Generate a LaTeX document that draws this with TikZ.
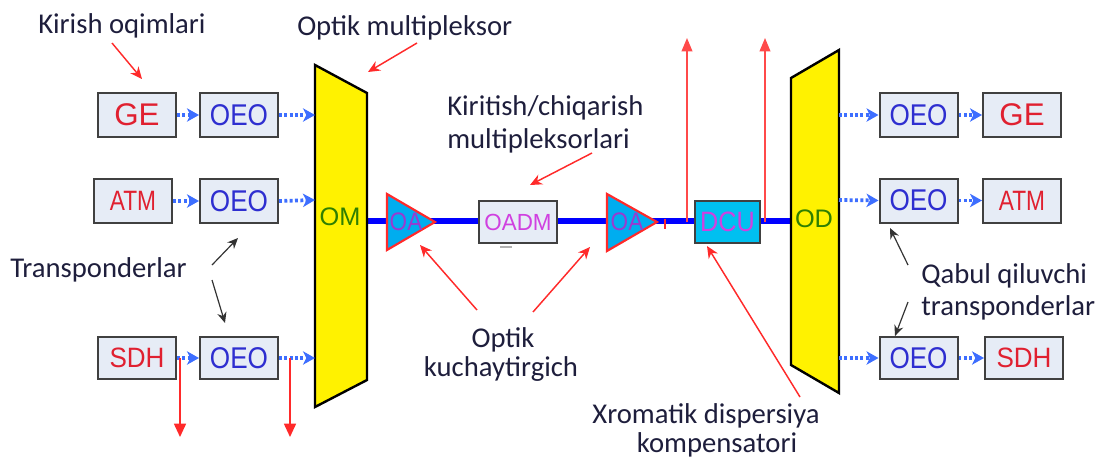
\documentclass[tikz,border=0pt]{standalone}
\usepackage{fontspec}
\setmainfont{Carlito}
\newfontfamily\arialf{Liberation Sans}
\usetikzlibrary{arrows.meta}
\definecolor{boxfill}{HTML}{E6ECF6}
\definecolor{boxline}{HTML}{404040}
\definecolor{oeoblue}{HTML}{2E2ED0}
\definecolor{gered}{HTML}{E02030}
\definecolor{dotblue}{HTML}{3D6EFF}
\definecolor{lbltext}{HTML}{1E1E3C}
\definecolor{arrred}{HTML}{FF2A2A}
\definecolor{thinred}{HTML}{FF4A4A}
\definecolor{muxgreen}{HTML}{2F7F00}
\definecolor{oapurple}{HTML}{9A3AD0}
\definecolor{dcufill}{HTML}{00C0F0}
\definecolor{magtext}{HTML}{D040E0}
\definecolor{linkblue}{HTML}{0000FF}
\newcommand\boxfont[2]{\arialf\fontsize{#1}{#1}\selectfont\addfontfeature{FakeStretch=#2}}
\begin{document}
\begin{tikzpicture}[x=0.75pt,y=-0.75pt,
  tbox/.style={draw=boxline, line width=1.5pt, fill=boxfill, minimum width=58.5pt,
    minimum height=33pt, inner sep=0pt},
  oeo/.style={tbox, text=oeoblue, font=\boxfont{22.5}{0.87}},
  getxt/.style={tbox, text=gered, font=\boxfont{23.5}{1.0}},
  atmtxt/.style={tbox, text=gered, font=\boxfont{21}{0.81}},
  sdhtxt/.style={tbox, text=gered, font=\boxfont{21}{0.93}, minimum height=31.5pt},
  dotarr/.style={draw=dotblue, line width=2.8pt, dash pattern=on 2.2pt off 1.8pt,
    -{Stealth[length=9pt,width=10pt,inset=2.5pt]}},
  mux/.style={draw=black, line width=1.8pt, fill=yellow, line join=miter},
  muxtxt/.style={text=muxgreen, font=\boxfont{19}{1.0}, inner sep=0pt},
  oatri/.style={draw=arrred, line width=1.6pt, fill=cyan, line join=miter},
  oatxt/.style={text=oapurple, font=\boxfont{19}{0.89}, inner sep=0pt},
  lbl/.style={text=lbltext, font=\fontsize{21.5}{25}\selectfont, inner sep=0pt},
  redarr/.style={draw=arrred, line width=1.1pt, -{Stealth[length=9pt,width=8pt]}},
  tallarr/.style={draw=thinred, line width=1.2pt, -{Triangle[length=10pt,width=8pt]}},
  blkarr/.style={draw=black!80, line width=0.9pt, -{Stealth[length=8pt,width=7pt]}}
]
\useasboundingbox (0,0) rectangle (1098,457);

% main optical link
\coordinate (omr) at (367,221);
\coordinate (odl) at (791,221);
\draw[draw=linkblue, line width=4.5pt] (omr) -- (odl);

% multiplexer / demultiplexer
\draw[mux] (315,65) -- (367,93) -- (367,380) -- (315,407) -- cycle;
\node[muxtxt] (om) at (340,217) {OM};
\draw[mux] (791,78) -- (839,50) -- (839,393) -- (791,365) -- cycle;
\node[muxtxt] (od) at (814,219) {OD};

% entry coordinates on OM / OD
\coordinate (om1) at (315,115);
\coordinate (om2) at (315,200);
\coordinate (om3) at (315,358);
\coordinate (od1) at (839,115);
\coordinate (od2) at (839,200);
\coordinate (od3) at (839,358);

% left boxes
\node[getxt]  (ge1)  at (137,115) {GE};
\node[atmtxt] (atm1) at (133,201) {ATM};
\node[sdhtxt] (sdh1) at (137,358) {SDH};
\node[oeo] (oeoL1) at (239,115) {OEO};
\node[oeo] (oeoL2) at (239,201) {OEO};
\node[oeo, minimum height=31.5pt] (oeoL3) at (239,358) {OEO};

% right boxes
\node[oeo] (oeoR1) at (918.5,115) {OEO};
\node[oeo] (oeoR2) at (918.5,200.5) {OEO};
\node[oeo, minimum height=31.5pt] (oeoR3) at (918.5,358) {OEO};
\node[getxt]  (ge2)  at (1022,115) {GE};
\node[atmtxt] (atm2) at (1022,200.5) {ATM};
\node[sdhtxt] (sdh2) at (1024,358) {SDH};

% dotted arrows left
\draw[dotarr] (ge1.east) -- (oeoL1.west);
\draw[dotarr] (atm1.east) -- (oeoL2.west);
\draw[dotarr] (sdh1.east) -- (oeoL3.west);
\draw[dotarr] (oeoL1.east) -- (om1);
\draw[dotarr] (oeoL2.east) -- (om2);
\draw[dotarr] (oeoL3.east) -- (om3);

% dotted arrows right
\draw[dotarr] (od1) -- (oeoR1.west);
\draw[dotarr] (od2) -- (oeoR2.west);
\draw[dotarr] (od3) -- (oeoR3.west);
\draw[dotarr] (oeoR1.east) -- (ge2.west);
\draw[dotarr] (oeoR2.east) -- (atm2.west);
\draw[dotarr] (oeoR3.east) -- (sdh2.west);

% drop arrows at bottom left
\coordinate (dropA) at (180,358);
\coordinate (dropAend) at (180,437);
\coordinate (dropB) at (290,358);
\coordinate (dropBend) at (290,437);
\draw[draw=arrred, line width=1.2pt, -{Triangle[length=10pt,width=9pt]}] (dropA) -- (dropAend);
\draw[draw=arrred, line width=1.2pt, -{Triangle[length=10pt,width=9pt]}] (dropB) -- (dropBend);

% add/drop arrows near DCU
\coordinate (upA) at (687,222);
\coordinate (upAend) at (687,38);
\coordinate (upB) at (765,222);
\coordinate (upBend) at (765,38);
\draw[tallarr] (upA) -- (upAend);
\draw[tallarr] (upB) -- (upBend);

% optical amplifiers
\draw[oatri] (387,194) -- (435,222) -- (387,250) -- cycle;
\node[oatxt] (oa1) at (406,222) {OA};
\draw[oatri] (607,194) -- (657,222) -- (607,251) -- cycle;
\node[oatxt] (oa2) at (627,222) {OA};
\draw[draw=arrred, line width=1.2pt] (665,219) -- (665,229);

% OADM
\node[tbox, minimum height=31.5pt, text=magtext, font=\boxfont{17.5}{0.96}] (oadm) at (518,222) {OADM};
\draw[draw=gray!60, line width=1.5pt] (500,246.5) -- (512,246.5);

% DCU
\node[tbox, minimum width=48.75pt, minimum height=31.5pt, fill=dcufill, text=magtext,
  font=\boxfont{21}{0.9}] (dcu) at (727.5,222) {DCU};

% labels
\node[lbl, anchor=base west] (kirish) at (38,33) {Kirish oqimlari};
\node[lbl, anchor=base west] (optmux) at (297,35) {Optik multipleksor};
\node[lbl, anchor=base west] (kc1) at (447,115) {Kiritish/chiqarish};
\node[lbl, anchor=base west] (kc2) at (447,148) {multipleksorlari};
\node[lbl, anchor=base west] (trans) at (10,277) {Transponderlar};
\node[lbl, anchor=base west] (qb1) at (921,283) {Qabul qiluvchi};
\node[lbl, anchor=base west] (qb2) at (921,315) {transponderlar};
\node[lbl, anchor=base] (ok1) at (503,347) {Optik};
\node[lbl, anchor=base] (ok2) at (501,376) {kuchaytirgich};
\node[lbl, anchor=base] (xr1) at (706,423) {Xromatik dispersiya};
\node[lbl, anchor=base] (xr2) at (717,452) {kompensatori};

% label arrow coordinates
\coordinate (kirA) at (112,43);   \coordinate (kirB) at (142,79);
\coordinate (omuxA) at (417,43);  \coordinate (omuxB) at (368,72);
\coordinate (kcA) at (592,153);   \coordinate (kcB) at (530,185);
\coordinate (okA) at (477,310);   \coordinate (okB) at (420,245);
\coordinate (okC) at (533,312);   \coordinate (okD) at (590,247);
\coordinate (xrA) at (800,397);   \coordinate (xrB) at (707,246);
\draw[redarr] (kirA) -- (kirB);
\draw[redarr] (omuxA) -- (omuxB);
\draw[redarr] (kcA) -- (kcB);
\draw[redarr] (okA) -- (okB);
\draw[redarr] (okC) -- (okD);
\draw[redarr] (xrA) -- (xrB);

% black arrows
\coordinate (trA) at (212,265);  \coordinate (trB) at (238,238);
\coordinate (trC) at (212,280);  \coordinate (trD) at (225,323);
\coordinate (qbA) at (908,265);  \coordinate (qbB) at (890,228);
\coordinate (qbC) at (908,302);  \coordinate (qbD) at (895,336);
\draw[blkarr] (trA) -- (trB);
\draw[blkarr] (trC) -- (trD);
\draw[blkarr] (qbA) -- (qbB);
\draw[blkarr] (qbC) -- (qbD);
\end{tikzpicture}
\end{document}
